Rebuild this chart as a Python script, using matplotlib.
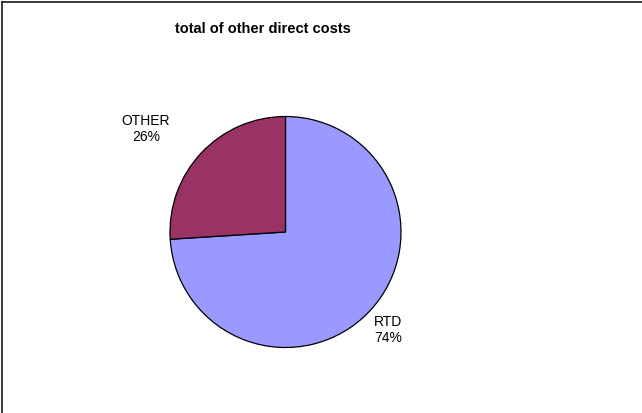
import matplotlib
matplotlib.use("Agg")
import matplotlib.pyplot as plt
from matplotlib.lines import Line2D

labels = ["RTD", "OTHER"]
values = [74, 26]
colors = ["#9999FF", "#993366"]
title = "total of other direct costs"

plt.rcParams['font.family'] = ['Liberation Sans', 'DejaVu Sans']

W, H = 642, 414
fig = plt.figure(figsize=(W / 100, H / 100), dpi=100)

cx, cy, r = 285.5, 233, 115.5
ax = fig.add_axes([(cx - r) / W, (H - cy - r) / H, 2 * r / W, 2 * r / H])
wedges, _ = ax.pie(values, colors=colors, startangle=90, counterclock=False,
                   radius=1, wedgeprops=dict(edgecolor="black", linewidth=0.9))
ax.set_xlim(-1, 1)
ax.set_ylim(-1, 1)
ax.set_aspect("equal")
ax.axis("off")

label_pos = {"RTD": (0.887, -0.84), "OTHER": (-1.208, 0.90)}
for lab, v in zip(labels, values):
    x, y = label_pos[lab]
    ax.text(x, y, f"{lab}\n{v}%", ha="center", va="center", fontsize=10,
            linespacing=1.25, clip_on=False)

fig.text(263 / W, 1 - 29 / H, title, ha="center", va="center",
         fontsize=10.5, fontweight="bold")

# partial frame: top and left edges only
lx, ty = 1.8 / W, 1 - 2.6 / H
fig.lines.append(Line2D([lx, lx], [0, ty], transform=fig.transFigure,
                        color="#1a1a1a", linewidth=1.2))
fig.lines.append(Line2D([lx, 1], [ty, ty], transform=fig.transFigure,
                        color="#1a1a1a", linewidth=1.2))

fig.savefig("out.png", dpi=100)
